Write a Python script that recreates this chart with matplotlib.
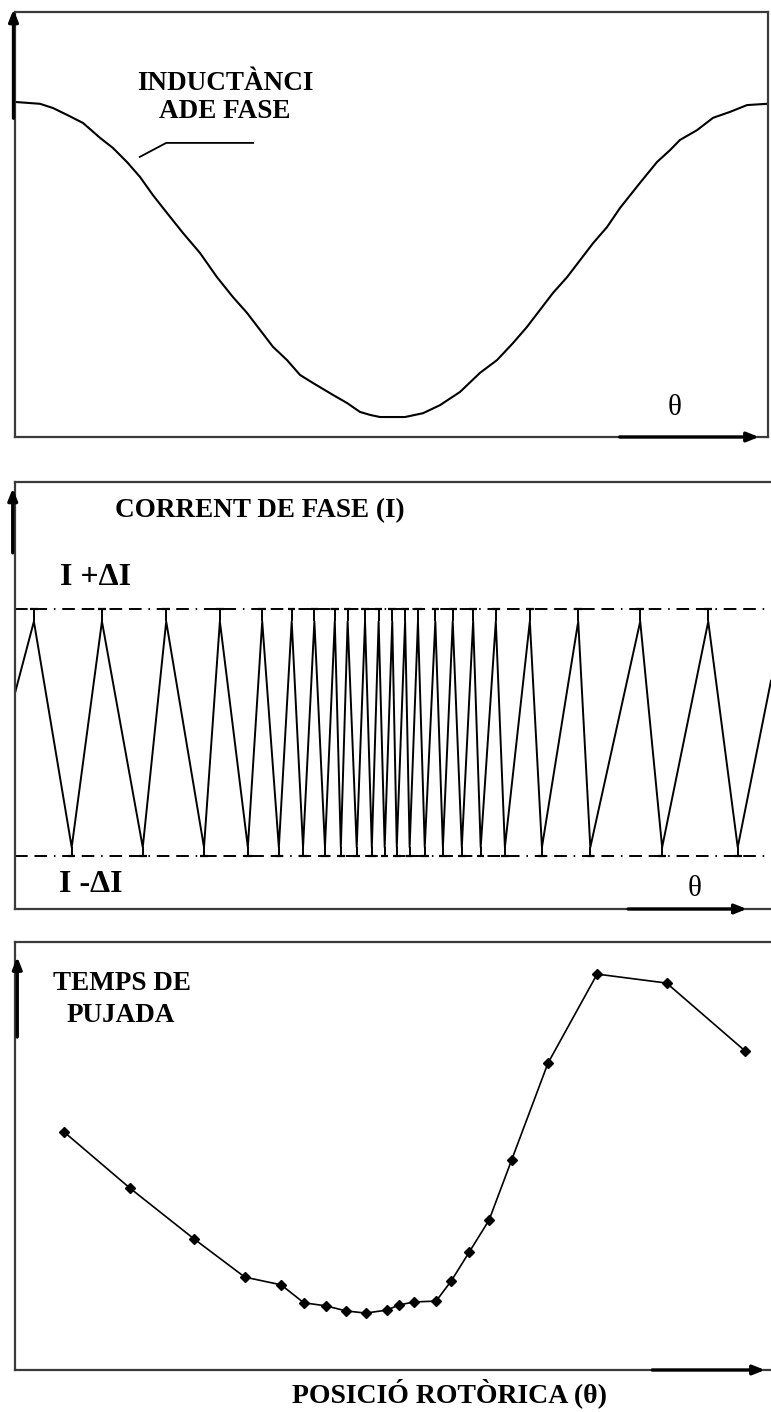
import matplotlib
matplotlib.use("Agg")
import matplotlib.pyplot as plt
import numpy as np

W, H = 771, 1412

# inductancia de fase vs posicio (0..100), valors normalitzats
theta_L = [0.26, 3.31, 5.03, 6.88, 8.99, 11.24, 12.96, 14.81, 16.53, 18.25, 20.11, 22.22, 24.47,
           26.72, 28.84, 30.69, 32.41, 34.13, 35.98, 37.70, 39.42, 42.06, 43.92, 45.63, 46.96,
           48.28, 51.59, 53.97, 56.22, 58.86, 61.51, 63.76, 65.87, 67.72, 69.44, 71.16, 73.02,
           74.74, 76.46, 78.31, 80.03, 82.67, 84.92, 86.64, 87.96, 90.21, 92.33, 94.58, 96.83, 99.47]
induct = [0.788, 0.784, 0.774, 0.758, 0.739, 0.704, 0.680, 0.647, 0.612, 0.569, 0.527, 0.480, 0.433,
          0.376, 0.329, 0.292, 0.252, 0.212, 0.181, 0.146, 0.127, 0.099, 0.080, 0.059, 0.052,
          0.047, 0.047, 0.056, 0.075, 0.106, 0.151, 0.181, 0.221, 0.259, 0.299, 0.339, 0.376,
          0.416, 0.456, 0.494, 0.539, 0.598, 0.647, 0.675, 0.699, 0.722, 0.751, 0.765, 0.781, 0.784]

# corrent per histeresi: posicions dels maxims i minims
peaks_th = [2.5, 11.5, 20.0, 27.1, 32.7, 36.6, 39.6, 42.3, 44.0, 46.3, 48.1, 49.9, 51.6,
            53.3, 55.6, 57.9, 60.6, 63.6, 68.1, 74.5, 82.7, 91.7]
valleys_th = [7.5, 16.9, 25.0, 30.8, 34.9, 38.1, 41.0, 43.1, 45.2, 47.2, 48.9, 50.5, 52.2,
              54.2, 56.6, 59.1, 61.6, 64.8, 69.7, 76.1, 85.6, 95.6]
i_start, i_end = 0.32, 0.42
i_peak, i_valley = 0.9, -0.93
band = 1.0  # I +/- dI

# temps de pujada
theta_t = [6.5, 15.2, 23.7, 30.4, 35.2, 38.2, 41.1, 43.8, 46.4, 49.2, 50.8, 52.8, 55.7,
           57.7, 60.1, 62.7, 65.7, 70.5, 77.0, 86.2, 96.6]
t_rise = [0.556, 0.425, 0.306, 0.217, 0.199, 0.157, 0.150, 0.138, 0.133, 0.140, 0.152, 0.159, 0.161,
          0.208, 0.276, 0.350, 0.491, 0.717, 0.925, 0.904, 0.745]

serif = "Liberation Serif"
edge = "#3a3a3a"


def box(ax, right=True):
    ax.set_xticks([])
    ax.set_yticks([])
    for s in ax.spines.values():
        s.set_color(edge)
        s.set_linewidth(1.6)
    if not right:
        ax.spines["right"].set_visible(False)


def arrow(ax, p0, p1):
    ax.annotate("", xy=p1, xytext=p0, xycoords="axes fraction", textcoords="axes fraction",
                arrowprops=dict(arrowstyle="-|>,head_length=0.7,head_width=0.28", lw=2.4,
                                color="black", shrinkA=0, shrinkB=0),
                annotation_clip=False)


def label(x, y, s, size, weight="bold", **kw):
    fig.text(x / W, 1 - y / H, s, fontsize=size, fontweight=weight, family=serif,
             ha="center", va="center", **kw)


fig = plt.figure(figsize=(W / 100, H / 100), dpi=100)

# --- inductancia ---
ax1 = fig.add_axes([15 / W, 1 - 437 / H, 753 / W, 425 / H])
ax1.plot(theta_L, induct, color="black", lw=1.5)
ax1.set_xlim(0, 99.6)
ax1.set_ylim(0, 1)
box(ax1)
ax1.plot([16.5, 20.0, 31.5], [0.659, 0.692, 0.692], color="black", lw=1.3)
arrow(ax1, (-0.002, 0.75), (-0.002, 1.006))
arrow(ax1, (0.803, 0), (0.988, 0))
label(225, 83, "INDUCTÀNCI", 19.5)
label(225, 112, "ADE FASE", 19.5)
label(675, 408, "θ", 21, weight="normal")

# --- corrent de fase ---
ax2 = fig.add_axes([15 / W, 1 - 909 / H, 756 / W, 427 / H])
ext = sorted([(p, i_peak) for p in peaks_th] + [(v, i_valley) for v in valleys_th])
wx = [0] + [e[0] for e in ext] + [100]
wy = [i_start] + [e[1] for e in ext] + [i_end]
ax2.plot(wx, wy, color="black", lw=1.4)
pk = np.array(peaks_th)
vl = np.array(valleys_th)
ax2.vlines(pk, i_peak, band, color="black", lw=1.4)
ax2.vlines(vl, -band, i_valley, color="black", lw=1.4)
ax2.hlines(np.full(len(pk), band), pk - 0.5, pk + 0.5, color="black", lw=1.6)
ax2.hlines(np.full(len(vl), -band), vl - 0.5, vl + 0.5, color="black", lw=1.6)
dd = (0, (6.5, 3.5, 6.5, 3.5, 0.8, 3.5))
ax2.axhline(band, color="black", lw=1.4, ls=dd)
ax2.axhline(-band, color="black", lw=1.4, ls=dd)
ax2.set_xlim(0, 100)
ax2.set_ylim(-1.43, 2.03)
box(ax2, right=False)
arrow(ax2, (-0.003, 0.834), (-0.003, 0.985))
arrow(ax2, (0.811, 0), (0.968, 0))
label(260, 511, "CORRENT DE FASE (I)", 19.5)
label(96, 578, "I +ΔI", 23)
label(91, 885, "I -ΔI", 23)
label(695, 889, "θ", 21, weight="normal")

# --- temps de pujada ---
ax3 = fig.add_axes([15 / W, 1 - 1370 / H, 756 / W, 428 / H])
ax3.plot(theta_t, t_rise, color="black", lw=1.2, marker="D", ms=5.5, mfc="black", mec="black")
ax3.set_xlim(0, 100)
ax3.set_ylim(0, 1)
box(ax3, right=False)
arrow(ax3, (0.003, 0.778), (0.003, 0.965))
arrow(ax3, (0.843, 0), (0.992, 0))
label(122, 984, "TEMPS DE", 19.5)
label(121, 1016, "PUJADA", 19.5)
label(449, 1393, "POSICIÓ ROTÒRICA (θ)", 20)

fig.savefig("out.png", dpi=100)
